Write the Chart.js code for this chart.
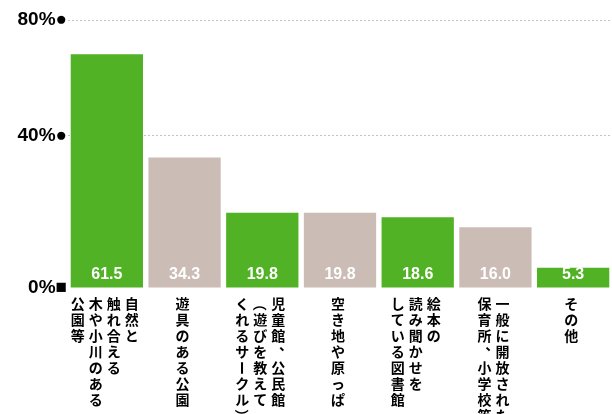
<!DOCTYPE html>
<html>
<head>
<meta charset="utf-8">
<script src="https://cdn.jsdelivr.net/npm/chart.js@4"></script>
<style>
    html, body { margin: 0; padding: 0; background: #fff; }
    #wrap { width: 612px; height: 414px; }
</style>
</head>
<body>
<div id="wrap"><canvas id="chart" width="612" height="414"></canvas></div>
<script>
// Category labels, one entry per column of vertical text (read right to left)
const categories = [
    ['自然と', '触れ合える', '木や小川のある', '公園等'],
    ['遊具のある公園'],
    ['児童館、公民館', '（遊びを教えて', 'くれるサークル）'],
    ['空き地や原っぱ'],
    ['絵本の', '読み聞かせを', 'している図書館'],
    ['一般に開放された', '保育所、小学校等'],
    ['その他']
];
const values = [61.5, 34.3, 19.8, 19.8, 18.6, 16.0, 5.3];
const tickLabels = ['0%■', '40%●', '80%●'];

const green = '#50b224';
const grey = '#cbbcb5';
const barColors = values.map((v, i) => i % 2 === 0 ? green : grey);

const yTop = 70.5;
const tickValues = [0, 40, yTop];

// Value printed in white at the foot of each bar
const valueLabels = {
    id: 'valueLabels',
    afterDatasetsDraw(chart) {
        const ctx = chart.ctx;
        const meta = chart.getDatasetMeta(0);
        ctx.save();
        ctx.fillStyle = '#fff';
        ctx.font = 'bold 16px "Liberation Sans", Arial, sans-serif';
        ctx.textAlign = 'center';
        ctx.textBaseline = 'alphabetic';
        meta.data.forEach((bar, i) => {
            ctx.fillText(values[i].toFixed(1), bar.x, chart.chartArea.bottom - 9);
        });
        ctx.restore();
    }
};

// Vertical (tategaki) category labels under the bars
const verticalLabels = {
    id: 'verticalLabels',
    afterDraw(chart) {
        const ctx = chart.ctx;
        const xScale = chart.scales.x;
        const size = 14;
        const pitch = 16;
        const colGap = 18;
        const top = chart.chartArea.bottom + 8;
        ctx.save();
        ctx.fillStyle = '#000';
        ctx.font = 'bold ' + size + 'px "Noto Sans CJK JP", sans-serif';
        ctx.textAlign = 'center';
        ctx.textBaseline = 'middle';
        categories.forEach((cols, i) => {
            const cx = xScale.getPixelForValue(i) - 2;
            cols.forEach((col, c) => {
                const x = cx + (cols.length - 1) / 2 * colGap - c * colGap;
                [...col].forEach((ch, k) => {
                    const y = top + k * pitch + pitch / 2;
                    if ('ー（）「」'.includes(ch)) {
                        ctx.save();
                        ctx.translate(x, y);
                        ctx.rotate(Math.PI / 2);
                        ctx.fillText(ch, 0, 0);
                        ctx.restore();
                    } else if ('、。'.includes(ch)) {
                        ctx.fillText(ch, x + size * 0.55, y - size * 0.5);
                    } else {
                        ctx.fillText(ch, x, y);
                    }
                });
            });
        });
        ctx.restore();
    }
};

new Chart(document.getElementById('chart'), {
    type: 'bar',
    data: {
        labels: categories.map(c => c.join('')),
        datasets: [{
            data: values,
            backgroundColor: barColors,
            borderWidth: 0,
            barPercentage: 0.93,
            categoryPercentage: 1
        }]
    },
    options: {
        responsive: false,
        animation: false,
        layout: { padding: { top: 20, right: 0, bottom: 126, left: 0 } },
        plugins: {
            legend: { display: false },
            tooltip: { enabled: false }
        },
        scales: {
            x: {
                display: false,
                offset: true
            },
            y: {
                min: 0,
                max: yTop,
                afterBuildTicks(scale) {
                    scale.ticks = tickValues.map(v => ({ value: v }));
                },
                afterFit(scale) {
                    scale.width = 68;
                },
                border: { display: false, dash: [2, 2] },
                grid: {
                    color: ctx => ctx.tick && ctx.tick.value === 0 ? 'rgba(0,0,0,0)' : '#c4c4c4',
                    lineWidth: 1,
                    drawTicks: false
                },
                ticks: {
                    padding: 1,
                    color: '#000',
                    font: { family: '"Liberation Sans", Arial, sans-serif', size: 19, weight: 'bold' },
                    callback: (v, i) => tickLabels[i]
                }
            }
        }
    },
    plugins: [valueLabels, verticalLabels]
});
</script>
</body>
</html>
